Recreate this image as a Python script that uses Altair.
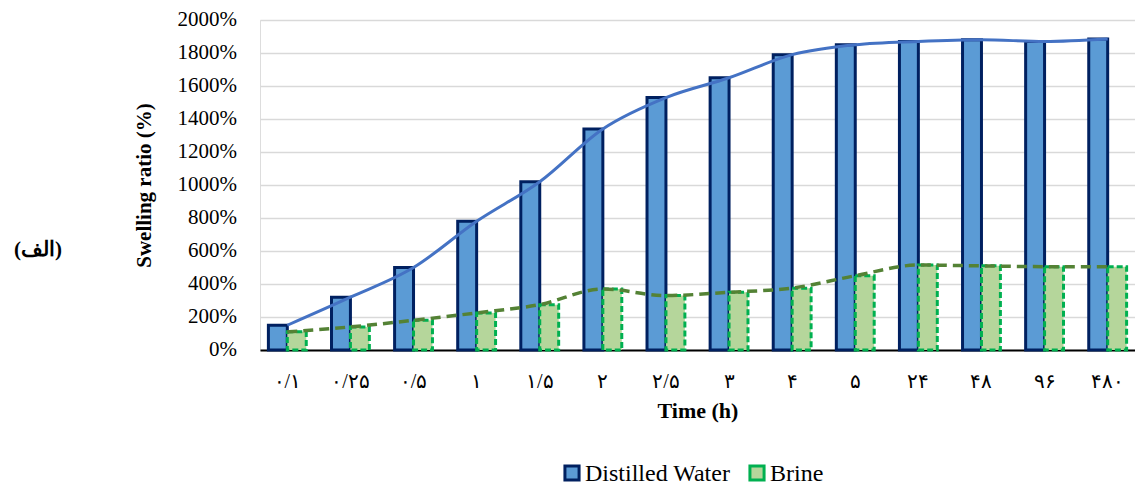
import altair as alt
import pandas as pd

categories = ["۰/۱", "۰/۲۵", "۰/۵", "۱", "۱/۵", "۲", "۲/۵", "۳", "۴", "۵", "۲۴", "۴۸", "۹۶", "۴۸۰"]
water = [150, 320, 500, 780, 1020, 1340, 1530, 1650, 1790, 1850, 1870, 1880, 1870, 1885]
brine = [110, 140, 180, 225, 275, 370, 330, 350, 375, 450, 515, 510, 505, 505]
series = ["Distilled Water", "Brine"]
y_ticks = [0, 200, 400, 600, 800, 1000, 1200, 1400, 1600, 1800, 2000]
series_fill = ["#5B9BD5", "#B5D69B"]
series_stroke = ["#002060", "#00B050"]

rows = []
for c, w, b in zip(categories, water, brine):
    rows.append({"time": c, "series": series[0], "value": w})
    rows.append({"time": c, "series": series[1], "value": b})
df = pd.DataFrame(rows)

SERIF = "Liberation Serif"

xscale = alt.Scale(paddingInner=0.4, paddingOuter=0.133)
yscale = alt.Scale(domain=[0, 2000], nice=False)
xaxis = alt.Axis(title="Time (h)", labels=False)
yaxis = alt.Axis(title="Swelling ratio (%)", values=y_ticks, labels=False)

color_scale = alt.Scale(domain=series, range=series_fill)
stroke_scale = alt.Scale(domain=series, range=series_stroke)

bars = alt.Chart(df).mark_bar(strokeWidth=3).encode(
    x=alt.X("time:N", sort=categories, scale=xscale, axis=xaxis),
    xOffset=alt.XOffset("series:N", sort=series),
    y=alt.Y("value:Q", scale=yscale, axis=yaxis),
    fill=alt.Fill("series:N", scale=color_scale, legend=None, sort=series),
    stroke=alt.Stroke("series:N", scale=stroke_scale, legend=None, sort=series),
    strokeDash=alt.condition(alt.datum.series == "Brine", alt.value([6, 3]), alt.value([1, 0])),
)

wdf = pd.DataFrame({"time": categories, "value": water})
bdf = pd.DataFrame({"time": categories, "value": brine})

line_w = alt.Chart(wdf).mark_line(color="#4472C4", strokeWidth=3, interpolate="monotone").encode(
    x=alt.X("time:N", sort=categories, scale=xscale, axis=xaxis),
    y=alt.Y("value:Q", scale=yscale, axis=yaxis))
line_b = alt.Chart(bdf).mark_line(color="#548235", strokeWidth=3.5, strokeDash=[10, 6],
                                  interpolate="monotone").encode(
    x=alt.X("time:N", sort=categories, scale=xscale, axis=xaxis),
    y=alt.Y("value:Q", scale=yscale, axis=yaxis))

# y tick labels as text
ydf = pd.DataFrame({"value": y_ticks, "lab": [f"{v}%" for v in y_ticks]})
ylabels = alt.Chart(ydf).mark_text(font=SERIF, fontSize=21, color="black", align="right",
                                   baseline="middle").encode(
    y=alt.Y("value:Q", scale=yscale, axis=yaxis), x=alt.value(-23), text="lab:N")

# x tick labels as text
xdf = pd.DataFrame({"time": categories})
xlabels = alt.Chart(xdf).mark_text(font=SERIF, fontSize=20, color="black", align="center",
                                   baseline="middle").encode(
    x=alt.X("time:N", sort=categories, scale=xscale, axis=xaxis), y=alt.value(362), text="time:N")

# legend
ldf = pd.DataFrame({"series": series, "px": [312, 497]})
leg_sq = alt.Chart(ldf).mark_square(size=200, strokeWidth=3, opacity=1).encode(
    x=alt.X("px:Q", scale=None), y=alt.value(453),
    fill=alt.Fill("series:N", scale=color_scale, legend=None, sort=series),
    stroke=alt.Stroke("series:N", scale=stroke_scale, legend=None, sort=series))
leg_tx = alt.Chart(ldf).mark_text(font=SERIF, fontSize=24, color="black", align="left",
                                  baseline="middle", dx=13, dy=1).encode(
    x=alt.X("px:Q", scale=None), y=alt.value(453), text="series:N")

label = alt.Chart(pd.DataFrame({"t": ["(الف)"]})).mark_text(
    font=SERIF, fontSize=21, fontWeight="bold", color="black", align="center", baseline="middle"
).encode(text="t:N", x=alt.value(-222), y=alt.value(230))

chart = alt.layer(bars, line_w, line_b, ylabels, xlabels, leg_sq, leg_tx, label).properties(
    width=875, height=330,
    autosize=alt.AutoSizeParams(type="none"),
    padding={"left": 260, "top": 20, "right": 0, "bottom": 134},
).configure_view(
    stroke="black", strokeWidth=1.5
).configure(
    background="white", font=SERIF
).configure_axis(
    titleFont=SERIF, titleColor="black", titleFontWeight="bold", ticks=False
).configure_axisX(
    grid=False, titleFontSize=22, titlePadding=50, domainColor="black", domainWidth=2
).configure_axisY(
    titleFontSize=21, titlePadding=106, gridColor="#D9D9D9", gridWidth=1.5, domain=False
)

chart.save("out.html", embed_options={"renderer": "svg", "actions": False})
